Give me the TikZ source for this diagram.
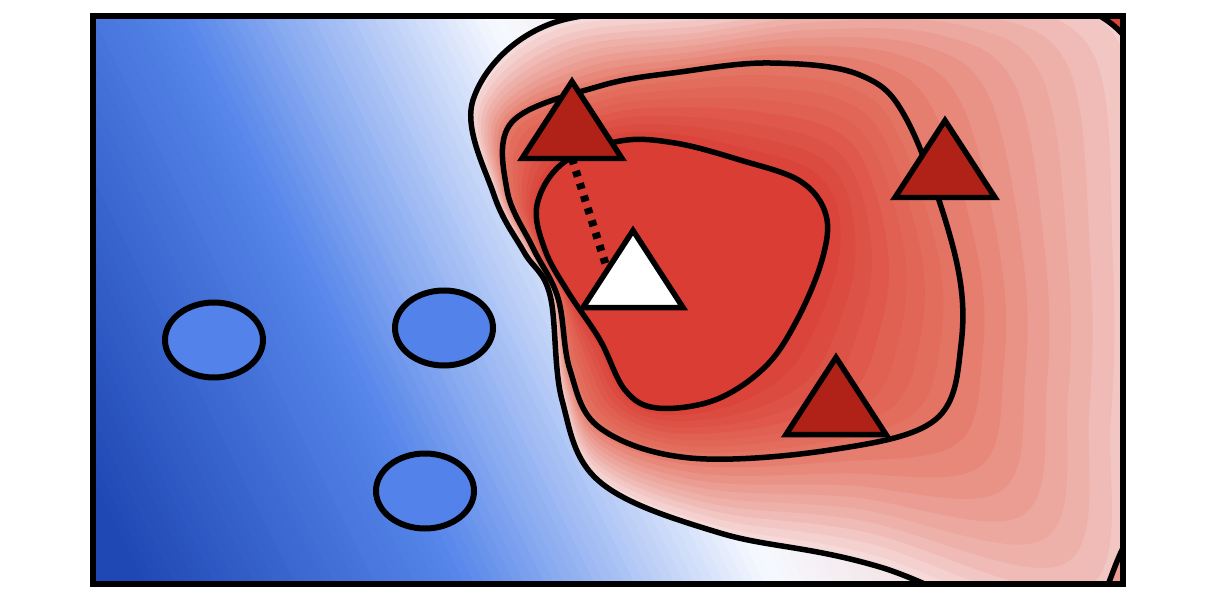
\documentclass[tikz,border=0pt]{standalone}
\usetikzlibrary{calc}
\definecolor{fieldnavy}{HTML}{2048B5}
\definecolor{fieldblue}{HTML}{5686EA}
\definecolor{fieldwhite}{HTML}{F5F8FE}
\definecolor{fieldblush}{HTML}{F2D6D6}
\definecolor{lvlpale}{HTML}{F6DADA}
\definecolor{lvlmid}{HTML}{E37463}
\definecolor{lvlcore}{HTML}{DA3D34}
\definecolor{trired}{HTML}{B02117}
\definecolor{blobblue}{HTML}{5282EA}
\tikzset{
  contour/.style={draw=black, line width=0.11cm},
  redtri/.style={draw=black, line width=0.11cm, fill=trired},
  whitetri/.style={draw=black, line width=0.11cm, fill=white},
  blob/.style={draw=black, line width=0.12cm, fill=blobblue},
  link/.style={draw=black, line width=0.16cm, dash pattern=on 0.12cm off 0.14cm},
  boxframe/.style={draw=black, line width=0.13cm},
}
\begin{document}
\begin{tikzpicture}[x=0.02cm, y=-0.02cm]
  \useasboundingbox (0,0) rectangle (1214,598);
  % level curves: outer, middle, core
  \foreach \n/\px/\py in {1/473/100, 2/550/24, 3/720/5, 4/880/-20, 5/1060/-25, 6/1175/30, 7/1180/250, 8/1175/450,
                          9/1150/660, 10/880/567, 11/720/533, 12/600/482, 13/562/400, 14/550/295, 15/524/252, 16/494/195}
    \coordinate (o\n) at (\px,\py);
  \foreach \n/\px/\py in {1/512/122, 2/600/86, 3/680/72, 4/770/63, 5/860/75, 6/908/122, 7/955/255, 8/961/345,
                          9/935/420, 10/830/450, 11/690/458, 12/600/428, 13/570/370, 14/558/298, 15/533/248, 16/507/190}
    \coordinate (m\n) at (\px,\py);
  \foreach \n/\px/\py in {1/563/163, 2/620/141, 3/675/143, 4/740/160, 5/800/181, 6/826/215, 7/822/260, 8/797/320,
                          9/765/367, 10/715/400, 11/657/408, 12/625/390, 13/600/340, 14/568/292, 15/545/250, 16/537/205}
    \coordinate (c\n) at (\px,\py);
  \begin{scope}
    \clip (93,16) rectangle (1123,584);
    % background field
    \foreach \s in {-210,-200,...,160}{
      \pgfmathtruncatemacro\pc{max(0,min(100,(\s+150)/3.2))}
      \fill[fieldblue!\pc!fieldnavy] (\s,10) -- (\s+12,10) -- (\s+300,590) -- (\s+288,590) -- cycle;
    }
    \foreach \s in {170,180,...,480}{
      \pgfmathtruncatemacro\pc{(\s-170)/3.1}
      \fill[fieldwhite!\pc!fieldblue] (\s,10) -- (\s+12,10) -- (\s+300,590) -- (\s+288,590) -- cycle;
    }
    \foreach \s in {490,500,...,1130}{
      \pgfmathtruncatemacro\pc{min(100,(\s-490)/2.1)}
      \fill[fieldblush!\pc!fieldwhite] (\s,10) -- (\s+12,10) -- (\s+300,590) -- (\s+288,590) -- cycle;
    }
    % red bands
    \foreach \i in {0,...,9}{
      \pgfmathsetmacro\t{\i/10}
      \pgfmathtruncatemacro\pc{\i*10}
      \foreach \k in {1,...,16} \coordinate (b\k) at ($(o\k)!\t!(m\k)$);
      \fill[lvlmid!\pc!lvlpale] plot[smooth cycle, tension=0.6] coordinates {(b1) (b2) (b3) (b4) (b5) (b6) (b7) (b8) (b9) (b10) (b11) (b12) (b13) (b14) (b15) (b16)};
    }
    \foreach \i in {0,...,7}{
      \pgfmathsetmacro\t{\i/8}
      \pgfmathtruncatemacro\pc{\i*12.5}
      \foreach \k in {1,...,16} \coordinate (b\k) at ($(m\k)!\t!(c\k)$);
      \fill[lvlcore!\pc!lvlmid] plot[smooth cycle, tension=0.6] coordinates {(b1) (b2) (b3) (b4) (b5) (b6) (b7) (b8) (b9) (b10) (b11) (b12) (b13) (b14) (b15) (b16)};
    }
    \fill[lvlcore] plot[smooth cycle, tension=0.6] coordinates {(c1) (c2) (c3) (c4) (c5) (c6) (c7) (c8) (c9) (c10) (c11) (c12) (c13) (c14) (c15) (c16)};
    % corners
    \fill[lvlcore!85!lvlmid] (1092,12) .. controls (1105,18) and (1115,25) .. (1130,42) -- (1130,10) -- cycle;
    \draw[contour] (1092,12) .. controls (1105,18) and (1115,25) .. (1130,42);
    \fill[lvlmid!60!lvlpale] (1106,590) .. controls (1112,575) and (1116,562) .. (1124,546) -- (1130,546) -- (1130,590) -- cycle;
    \draw[contour] (1106,590) .. controls (1112,575) and (1116,562) .. (1124,546);
    % contour lines
    \draw[contour] plot[smooth cycle, tension=0.6] coordinates {(o1) (o2) (o3) (o4) (o5) (o6) (o7) (o8) (o9) (o10) (o11) (o12) (o13) (o14) (o15) (o16)};
    \draw[contour] plot[smooth cycle, tension=0.6] coordinates {(m1) (m2) (m3) (m4) (m5) (m6) (m7) (m8) (m9) (m10) (m11) (m12) (m13) (m14) (m15) (m16)};
    \draw[contour] plot[smooth cycle, tension=0.6] coordinates {(c1) (c2) (c3) (c4) (c5) (c6) (c7) (c8) (c9) (c10) (c11) (c12) (c13) (c14) (c15) (c16)};
  \end{scope}
  % blue blobs
  \foreach \n/\px/\py in {e1/214/340, e2/444/328, e3/425/491}
    \draw[blob] (\px,\py) coordinate (\n) ellipse [x radius=49, y radius=37.5];
  % triangles
  \coordinate (t1) at (572,158.5);
  \coordinate (t2) at (945,197.5);
  \coordinate (t3) at (836,434.5);
  \coordinate (w) at (633,307.5);
  \draw[link] (t1) -- ($(w)+(-27,-42)$);
  \foreach \n in {t1,t2,t3}
    \draw[redtri] (\n) ++(-50,0) -- ++(100,0) -- ++(-50,-77) -- cycle;
  \draw[whitetri] (w) ++(-50,0) -- ++(100,0) -- ++(-50,-77) -- cycle;
  \draw[boxframe] (93,16) rectangle (1123,584);
\end{tikzpicture}
\end{document}
